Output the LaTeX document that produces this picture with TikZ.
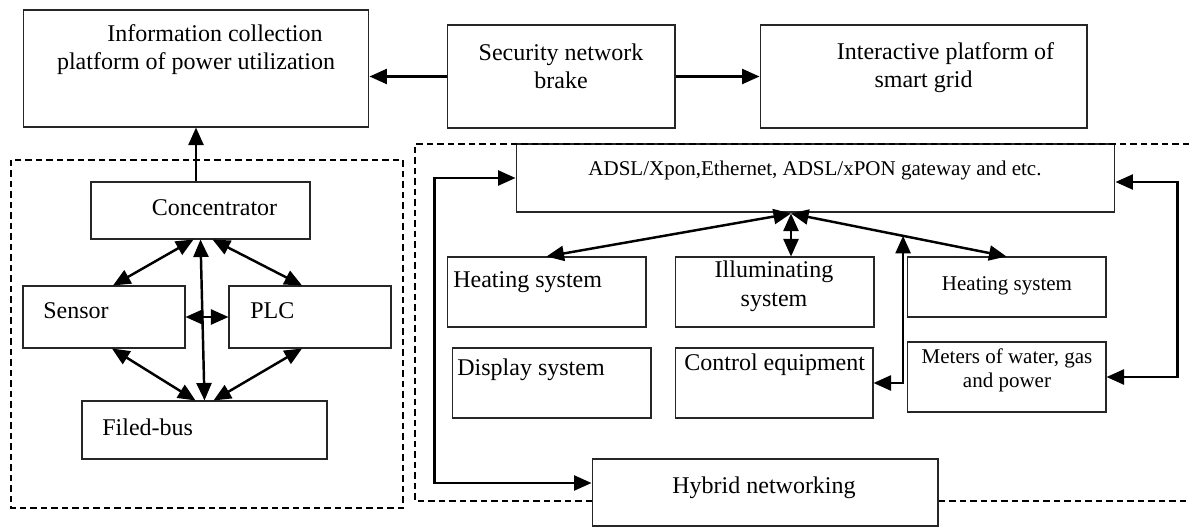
\documentclass[tikz,border=0pt]{standalone}
\usepackage{fontspec}
\setmainfont{Liberation Serif}
\usepackage{xcolor}
\definecolor{cLine}{HTML}{000000}
\definecolor{cFrame}{HTML}{262626}
\usetikzlibrary{arrows.meta,calc}
\tikzset{
  node-box/.style={draw=cFrame,line width=0.6pt,fill=white,inner sep=0pt},
  node-txt/.style={inner sep=0pt,anchor=base,
    font=\fontsize{13.66pt}{15.94pt}\selectfont},
  node-txt-s/.style={inner sep=0pt,anchor=base,
    font=\fontsize{11.95pt}{13.66pt}\selectfont},
  arrow/.style={-{Triangle[length=3.5mm,width=3mm]},line width=1.4pt,draw=cLine},
  arrow-both/.style={{Triangle[length=3.5mm,width=3mm]}-{Triangle[length=3.5mm,width=3mm]},
    line width=1.4pt,draw=cLine},
  group-frame/.style={draw=cLine,line width=0.85pt,dash pattern=on 0.13cm off 0.08cm},
}
\begin{document}
\begin{tikzpicture}[x=0.02cm,y=-0.02cm]
  \useasboundingbox (0,0) rectangle (1189,527);

  % dashed frames of the two groups
  \draw[group-frame] (11,160) rectangle (403,508);

  % top row
  \node[node-box,minimum width=6.92cm,minimum height=2.34cm] (info)  at (196,68.5) {};
  \node[node-box,minimum width=4.56cm,minimum height=2.06cm] (secu)  at (561,76.5) {};
  \node[node-box,minimum width=6.54cm,minimum height=2.06cm] (inter) at (923.5,76.5) {};
  \node[node-txt,align=center] (info-t)  at (196,70) {\hspace*{0.76cm}Information collection\\platform of power utilization};
  \node[node-txt,align=center] (secu-t)  at (561,89) {Security network\\brake};
  \node[node-txt,align=center] (inter-t) at (923.5,88) {\hspace*{0.88cm}Interactive platform of\\smart grid};

  % field side
  \node[node-box,minimum width=4.38cm,minimum height=1.14cm] (conc) at (200.5,210.5) {};
  \node[node-box,minimum width=3.24cm,minimum height=1.24cm] (sens) at (104,317) {};
  \node[node-box,minimum width=3.24cm,minimum height=1.24cm] (plc)  at (310,317) {};
  \node[node-box,minimum width=4.90cm,minimum height=1.16cm] (fbus) at (204.5,430) {};
  \node[node-txt] (conc-t) at (214.5,215) {Concentrator};
  \node[node-txt,anchor=base west] (sens-t) at (43,318) {Sensor};
  \node[node-txt,anchor=base west] (plc-t)  at (250,318) {PLC};
  \node[node-txt,anchor=base west] (fbus-t) at (102,435) {Filed-bus};

  % home side
  \node[node-box,minimum width=11.98cm,minimum height=1.36cm] (adsl)  at (815.5,178) {};
  \node[node-box,minimum width=3.98cm,minimum height=1.40cm] (heatL)  at (546.5,292) {};
  \node[node-box,minimum width=3.98cm,minimum height=1.40cm] (illum)  at (774.5,292) {};
  \node[node-box,minimum width=3.98cm,minimum height=1.20cm] (heatR)  at (1006.5,287) {};
  \node[node-box,minimum width=3.98cm,minimum height=1.40cm] (disp)   at (551.5,383) {};
  \node[node-box,minimum width=3.96cm,minimum height=1.40cm] (ctrl)   at (774,383) {};
  \node[node-box,minimum width=3.98cm,minimum height=1.40cm] (meter)  at (1006.5,377) {};
  \node[node-box,minimum width=6.92cm,minimum height=1.34cm] (hybrid) at (765,492.5) {};
  \node[node-txt-s] (adsl-t) at (815,175) {ADSL/Xpon,Ethernet, ADSL/xPON gateway and etc.};
  \node[node-txt,anchor=base west] (heatL-t) at (453,287) {Heating system};
  \node[node-txt,align=center] (illum-t) at (774,306) {Illuminating\\system};
  \node[node-txt-s] (heatR-t) at (1007,290) {Heating system};
  \node[node-txt,anchor=base west] (disp-t) at (457,375) {Display system};
  \node[node-txt,anchor=base west] (ctrl-t) at (684,370) {Control equipment};
  \node[node-txt-s,align=center] (meter-t) at (1007,387) {Meters of water, gas\\and power};
  \node[node-txt] (hybrid-t) at (764,493) {Hybrid networking};

  \draw[group-frame] (1189,144) -- (415,144) -- (415,501) -- (hybrid.west |- 0,501);
  \draw[group-frame] (hybrid.east |- 0,501) -- (1189,501);

  % platform links
  \draw[arrow] (secu.west) -- (secu.west -| info.east);
  \draw[arrow] (secu.east) -- (inter.west);
  \draw[arrow] (info.south |- conc.north) -- (info.south);

  % concentrator links
  \draw[arrow-both] ($(conc.south)+(-7,0)$) -- ($(sens.north)+(9,0)$);
  \draw[arrow-both] (conc.south) -- (fbus.north);
  \draw[arrow-both] ($(conc.south)+(12,0)$) -- ($(plc.north)+(-8,0)$);
  \draw[arrow-both] ($(sens.south)+(8,0)$) -- ($(fbus.north)+(-9,0)$);
  \draw[arrow-both] ($(plc.south)+(-8,0)$) -- ($(fbus.north)+(9,0)$);
  \draw[arrow-both] (sens.east) -- (plc.west);

  % gateway links
  \coordinate (hub) at ($(adsl.south)+(-24.5,1)$);
  \draw[arrow-both] (hub) -- (heatL.north);
  \draw[arrow-both] (hub) -- (hub |- illum.north);
  \draw[arrow-both] (hub) -- (heatR.north) coordinate[pos=0.52] (tap);
  \draw[arrow-both] (ctrl.east) -| (tap);
  \draw[arrow-both] (adsl.west) -- ++(-81,0) |- ($(hybrid.west)+(0,-9.5)$);
  \draw[arrow-both] ($(adsl.east)+(0,4)$) -- ++(62,0) |- (meter.east);
\end{tikzpicture}
\end{document}
